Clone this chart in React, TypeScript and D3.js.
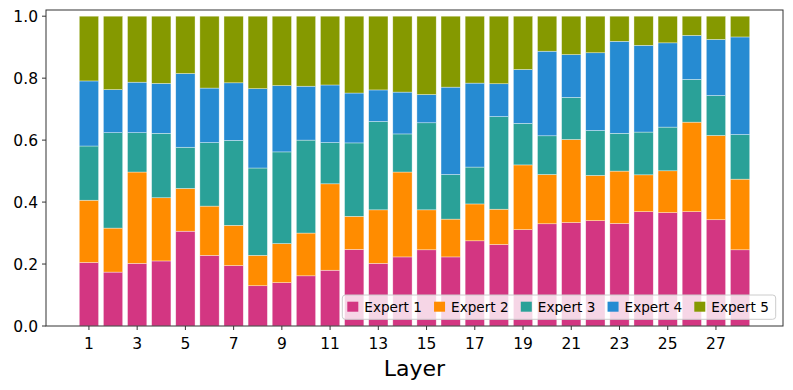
import React from "react";
import * as d3 from "d3";

const layers = d3.range(1, 29);
const expertNames = ["Expert 1", "Expert 2", "Expert 3", "Expert 4", "Expert 5"];
const expertColors = ["#d33682", "#ff8c00", "#2aa198", "#268bd2", "#859900"];

const expert1 = [0.205, 0.174, 0.202, 0.210, 0.306, 0.228, 0.195, 0.130, 0.140, 0.162, 0.180, 0.247, 0.202, 0.223, 0.246, 0.223, 0.275, 0.263, 0.311, 0.330, 0.334, 0.340, 0.331, 0.369, 0.366, 0.369, 0.343, 0.246];
const expert2 = [0.201, 0.142, 0.295, 0.204, 0.138, 0.159, 0.130, 0.098, 0.126, 0.138, 0.279, 0.107, 0.173, 0.274, 0.129, 0.122, 0.119, 0.114, 0.209, 0.159, 0.268, 0.146, 0.169, 0.119, 0.135, 0.289, 0.272, 0.228];
const expert3 = [0.175, 0.308, 0.127, 0.208, 0.133, 0.205, 0.274, 0.282, 0.296, 0.300, 0.133, 0.237, 0.285, 0.123, 0.281, 0.144, 0.119, 0.299, 0.134, 0.125, 0.136, 0.145, 0.122, 0.138, 0.141, 0.138, 0.129, 0.144];
const expert4 = [0.210, 0.139, 0.163, 0.161, 0.238, 0.176, 0.186, 0.256, 0.214, 0.174, 0.186, 0.161, 0.102, 0.135, 0.091, 0.282, 0.271, 0.106, 0.174, 0.273, 0.138, 0.251, 0.297, 0.280, 0.272, 0.142, 0.181, 0.315];
const expert5 = layers.map((_, i) => 1 - expert1[i] - expert2[i] - expert3[i] - expert4[i]);

const yTicks = [0, 0.2, 0.4, 0.6, 0.8, 1.0];
const xTicks = [1, 3, 5, 7, 9, 11, 13, 15, 17, 19, 21, 23, 25, 27];

const W = 793;
const H = 390;
const left = 46;
const right = 783;
const top = 10;
const bottom = 326;
const FONT = "DejaVu Sans, sans-serif";

export default function App() {
  const series = [expert1, expert2, expert3, expert4, expert5];
  const rows = layers.map((l, i) => {
    const r: any = { layer: l };
    expertNames.forEach((n, k) => (r[n] = series[k][i]));
    return r;
  });
  const stacked = d3.stack<any>().keys(expertNames)(rows);

  const x = d3.scaleLinear().domain([1 - 1.78, 28 + 1.78]).range([left, right]);
  const y = d3.scaleLinear().domain([0, 1.02]).range([bottom, top]);
  const step = x(2) - x(1);
  const bw = step * 0.8;

  const legendX0 = 347.3;
  const legendStep = 86.75;

  return (
    <svg width={W} height={H} style={{ position: "absolute", left: 0, top: 0, background: "#fff" }} fontFamily={FONT}>
      <rect x={0} y={0} width={W} height={H} fill="#fff" />
      {stacked.map((s, k) => (
        <g key={k} fill={expertColors[k]}>
          {s.map((d, i) => (
            <rect
              key={i}
              x={x(layers[i]) - bw / 2}
              y={y(d[1])}
              width={bw}
              height={y(d[0]) - y(d[1])}
              stroke="#fff"
              strokeWidth={0.6}
              strokeOpacity={0.6}
            />
          ))}
        </g>
      ))}
      {/* spines */}
      <rect x={left} y={top} width={right - left} height={bottom - top} fill="none" stroke="#333" strokeWidth={1} />
      {/* y axis */}
      {yTicks.map((t) => (
        <g key={t}>
          <line x1={left - 4} x2={left} y1={y(t)} y2={y(t)} stroke="#333" strokeWidth={1} />
          <text x={left - 8} y={y(t)} dy="0.36em" textAnchor="end" fontSize={15.5} fill="#000">
            {t.toFixed(1)}
          </text>
        </g>
      ))}
      {/* x axis */}
      {xTicks.map((t) => (
        <g key={t}>
          <line x1={x(t)} x2={x(t)} y1={bottom} y2={bottom + 4} stroke="#333" strokeWidth={1} />
          <text x={x(t)} y={349.3} textAnchor="middle" fontSize={15.5} fill="#000">
            {t}
          </text>
        </g>
      ))}
      <text x={(left + right) / 2} y={375.5} textAnchor="middle" fontSize={22} fill="#000">
        Layer
      </text>
      {/* legend */}
      <rect x={342.3} y={295} width={433.4} height={24.3} rx={3} fill="#fff" fillOpacity={0.8} stroke="#ccc" strokeWidth={1} />
      {expertNames.map((n, k) => (
        <g key={n}>
          <rect x={legendX0 + k * legendStep} y={301.7} width={11} height={10} fill={expertColors[k]} />
          <text x={legendX0 + k * legendStep + 17} y={311.6} fontSize={13.6} fill="#000">
            {n}
          </text>
        </g>
      ))}
    </svg>
  );
}
